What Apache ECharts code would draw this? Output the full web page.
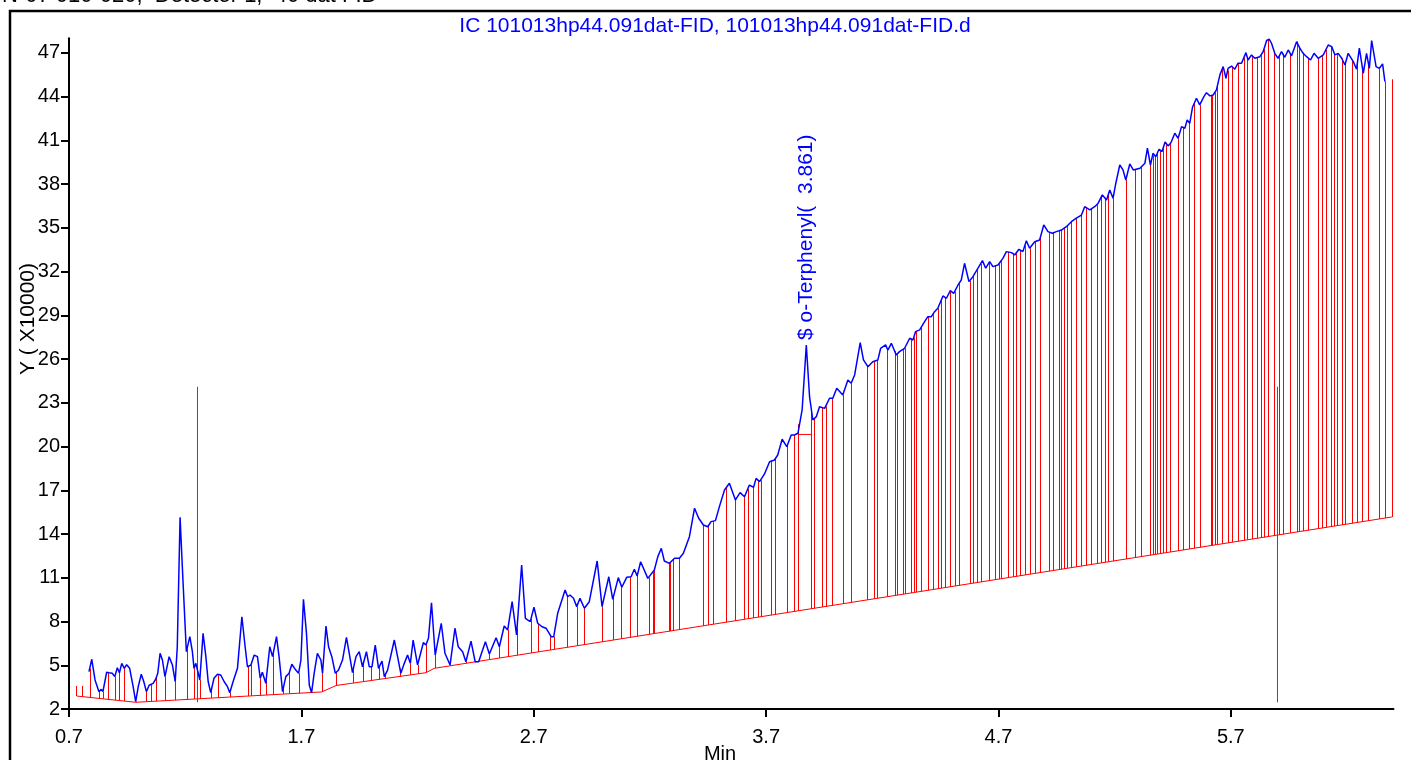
<!DOCTYPE html>
<html>
<head>
<meta charset="utf-8">
<script src="https://cdn.jsdelivr.net/npm/echarts@6/dist/echarts.min.js"></script>
<style>
    html, body { margin: 0; padding: 0; background: #fff; }
    #chart { width: 1411px; height: 760px; }
</style>
</head>
<body>
<div id="chart"></div>
<script>
    // axis ticks
    const xTicks = [0.7, 1.7, 2.7, 3.7, 4.7, 5.7];
    const yTicks = [2, 5, 8, 11, 14, 17, 20, 23, 26, 29, 32, 35, 38, 41, 44, 47];

    // FID signal, [min, Y x10000]
    const signal = [
        [0.786,4.56],[0.798,5.41],[0.812,3.99],[0.829,3.19],[0.839,3.35],[0.846,3.19],[0.862,4.52],[0.872,4.49],[0.886,4.45],[0.897,4.22],
        [0.908,4.83],[0.917,4.49],[0.927,5.13],[0.938,4.79],[0.948,5.04],[0.961,4.79],[0.976,3.53],[0.987,2.50],[0.998,3.53],[1.011,4.38],
        [1.022,3.87],[1.033,3.19],[1.045,3.63],[1.062,3.76],[1.073,4.04],[1.082,4.45],[1.092,5.82],[1.102,5.36],[1.113,4.22],[1.131,5.59],
        [1.145,5.02],[1.157,3.87],[1.166,6.27],[1.178,15.15],[1.191,10.62],[1.205,5.93],[1.220,6.96],[1.231,5.93],[1.238,4.79],[1.246,5.13],
        [1.263,3.99],[1.277,7.19],[1.289,5.59],[1.299,3.87],[1.310,3.12],[1.324,4.11],[1.339,4.38],[1.353,4.33],[1.368,3.87],[1.382,3.53],
        [1.392,3.12],[1.406,3.87],[1.425,4.79],[1.444,8.33],[1.458,6.27],[1.468,4.90],[1.483,5.02],[1.497,5.70],[1.511,5.59],[1.523,4.11],
        [1.532,4.52],[1.547,3.76],[1.564,6.27],[1.576,5.59],[1.593,6.96],[1.604,5.59],[1.619,3.19],[1.633,4.22],[1.647,4.45],[1.659,5.07],
        [1.676,4.67],[1.688,4.45],[1.698,5.36],[1.709,9.52],[1.722,7.19],[1.734,3.65],[1.744,3.12],[1.755,4.45],[1.769,5.82],[1.784,5.36],
        [1.791,4.45],[1.806,7.69],[1.817,6.27],[1.831,5.59],[1.846,4.45],[1.860,4.67],[1.877,5.36],[1.894,6.92],[1.906,5.82],[1.920,4.49],
        [1.935,5.59],[1.949,5.93],[1.963,4.90],[1.980,5.93],[1.992,4.90],[2.004,4.90],[2.018,6.39],[2.032,4.79],[2.047,5.29],[2.057,4.22],
        [2.071,4.67],[2.100,6.73],[2.114,5.59],[2.128,4.45],[2.143,5.13],[2.157,5.70],[2.169,5.13],[2.181,6.73],[2.200,5.02],[2.225,6.55],
        [2.236,6.39],[2.247,6.85],[2.260,9.29],[2.276,5.70],[2.302,7.88],[2.318,5.82],[2.340,5.02],[2.361,7.54],[2.375,6.27],[2.394,5.93],
        [2.408,5.24],[2.430,6.66],[2.448,5.24],[2.463,5.24],[2.492,6.62],[2.509,5.77],[2.538,6.89],[2.552,6.27],[2.573,7.69],[2.588,7.42],
        [2.607,9.36],[2.626,7.08],[2.648,11.88],[2.664,8.22],[2.685,7.99],[2.701,8.98],[2.717,7.88],[2.736,7.64],[2.753,7.54],[2.775,6.96],
        [2.786,6.96],[2.803,8.56],[2.835,10.16],[2.846,9.70],[2.856,9.82],[2.871,9.59],[2.885,9.02],[2.899,9.59],[2.918,8.91],[2.939,9.36],
        [2.973,12.15],[2.994,9.02],[3.023,11.07],[3.040,9.52],[3.064,11.01],[3.079,10.35],[3.100,11.03],[3.119,11.07],[3.133,11.58],[3.145,11.12],
        [3.160,12.10],[3.191,10.96],[3.219,11.53],[3.234,12.45],[3.249,13.02],[3.262,12.15],[3.284,11.99],[3.306,12.34],[3.327,12.34],[3.344,12.68],
        [3.370,13.82],[3.392,15.77],[3.410,15.08],[3.430,14.62],[3.449,14.50],[3.463,14.85],[3.482,14.92],[3.499,15.88],[3.521,17.02],[3.542,17.48],
        [3.568,16.34],[3.588,16.84],[3.607,16.56],[3.628,17.36],[3.646,17.21],[3.657,17.82],[3.672,17.59],[3.693,18.12],[3.715,18.96],[3.736,19.08],
        [3.750,19.42],[3.769,20.50],[3.789,19.99],[3.808,20.79],[3.822,20.79],[3.837,20.91],[3.855,22.51],[3.873,26.97],[3.887,23.42],[3.901,21.82],
        [3.916,22.05],[3.930,22.73],[3.952,22.62],[3.973,23.31],[3.987,23.31],[4.004,24.00],[4.030,23.54],[4.052,24.57],[4.066,24.34],[4.081,24.91],
        [4.105,27.12],[4.119,25.94],[4.138,25.48],[4.159,25.82],[4.181,25.94],[4.193,26.74],[4.214,26.97],[4.224,26.62],[4.239,27.08],[4.260,26.28],
        [4.274,26.51],[4.296,26.74],[4.318,27.43],[4.332,27.31],[4.343,27.88],[4.361,28.00],[4.378,28.46],[4.396,28.91],[4.411,28.91],[4.425,29.25],
        [4.439,29.48],[4.461,30.33],[4.476,30.17],[4.493,30.69],[4.507,30.51],[4.526,31.08],[4.540,31.43],[4.554,32.57],[4.573,31.31],[4.590,31.65],
        [4.612,32.23],[4.631,32.75],[4.645,32.23],[4.662,32.68],[4.676,32.34],[4.698,32.45],[4.719,32.91],[4.734,33.37],[4.756,33.30],[4.770,33.14],
        [4.788,33.53],[4.805,33.37],[4.820,34.12],[4.834,33.60],[4.856,34.05],[4.877,34.17],[4.895,35.20],[4.913,34.74],[4.932,34.63],[4.949,34.74],
        [4.971,34.85],[4.992,35.08],[5.014,35.42],[5.035,35.66],[5.057,35.88],[5.071,36.45],[5.093,36.23],[5.114,36.45],[5.129,36.69],[5.147,37.26],
        [5.165,36.91],[5.179,37.60],[5.193,37.03],[5.205,38.06],[5.222,39.31],[5.236,38.97],[5.248,38.28],[5.265,39.38],[5.280,38.97],[5.309,39.09],
        [5.330,39.43],[5.341,40.46],[5.354,39.31],[5.365,40.11],[5.377,39.88],[5.391,40.39],[5.404,40.23],[5.417,40.89],[5.430,40.62],[5.442,40.84],
        [5.459,41.49],[5.473,41.14],[5.488,41.94],[5.502,41.83],[5.512,42.40],[5.523,42.17],[5.535,43.27],[5.552,43.89],[5.566,43.43],[5.584,44.00],
        [5.595,44.27],[5.610,44.05],[5.624,44.11],[5.638,44.46],[5.653,45.49],[5.667,46.06],[5.679,45.26],[5.688,45.94],[5.703,46.10],[5.717,45.88],
        [5.731,46.29],[5.746,46.29],[5.765,47.02],[5.774,46.51],[5.789,46.86],[5.803,46.63],[5.825,46.74],[5.839,47.08],[5.854,47.85],[5.865,47.95],
        [5.875,47.66],[5.889,46.97],[5.903,46.63],[5.918,47.08],[5.932,46.70],[5.947,47.20],[5.961,46.79],[5.983,47.77],[5.997,47.32],[6.011,46.97],
        [6.026,46.74],[6.043,46.51],[6.058,46.97],[6.076,46.63],[6.098,46.86],[6.119,47.54],[6.134,47.43],[6.148,46.86],[6.162,46.97],[6.177,46.63],
        [6.191,46.17],[6.205,46.97],[6.227,46.40],[6.241,45.88],[6.253,47.32],[6.270,45.60],[6.284,46.97],[6.296,45.94],[6.306,47.84],[6.325,46.06],
        [6.339,45.94],[6.353,46.24],[6.363,45.03]
    ];

    // integration baseline
    const baseline = [[0.733,2.89],[0.987,2.46],[1.788,3.17],[1.849,3.61],[2.236,4.49],[2.272,4.79],[6.393,15.17]];

    // peak start/stop drop lines (go up to the signal)
    const dropTimes = [
        0.789,0.829,0.846,0.869,0.897,0.917,0.938,0.987,1.033,1.054,1.075,1.113,1.157,1.208,1.238,1.263,1.312,1.340,1.392,1.470,
        1.483,1.523,1.548,1.579,1.622,1.647,1.688,1.741,1.788,1.849,1.923,1.966,2.001,2.035,2.061,2.124,2.169,2.200,2.236,2.276,
        2.340,2.408,2.458,2.509,2.552,2.588,2.628,2.688,2.720,2.770,2.786,2.845,2.885,2.918,2.994,3.042,3.077,3.115,3.145,3.194,
        3.212,3.219,3.281,3.288,3.298,3.324,3.430,3.452,3.473,3.528,3.567,3.607,3.621,3.643,3.664,3.676,3.722,3.740,3.791,3.819,
        3.894,3.908,3.942,3.956,3.983,4.030,4.066,4.134,4.163,4.178,4.222,4.253,4.263,4.289,4.296,4.322,4.335,4.346,4.368,4.396,
        4.418,4.439,4.454,4.471,4.493,4.511,4.529,4.576,4.590,4.607,4.623,4.659,4.687,4.701,4.712,4.743,4.762,4.777,4.791,4.813,
        4.834,4.859,4.880,4.917,4.935,4.961,4.968,4.982,4.997,5.014,5.035,5.057,5.078,5.100,5.122,5.143,5.157,5.172,5.193,5.248,
        5.287,5.312,5.351,5.363,5.373,5.383,5.394,5.408,5.420,5.440,5.473,5.492,5.520,5.542,5.566,5.613,5.619,5.631,5.641,5.664,
        5.686,5.707,5.729,5.756,5.770,5.793,5.811,5.829,5.842,5.858,5.886,5.907,5.923,5.954,5.983,5.993,6.009,6.033,6.076,6.091,
        6.109,6.129,6.145,6.158,6.177,6.192,6.222,6.244,6.265,6.291,6.339,6.363
    ];
    // drop lines with their own top value
    const flagDrops = [[0.731,3.58],[0.755,3.58],[3.838,21.53],[6.392,45.19]];
    // skimmed baseline under the surrogate peak
    const peakBase = [[3.838,20.83],[3.894,20.83]];

    // retention window markers
    const windowTimes = [1.253, 5.897];
    const windowRange = [2.46, 24.1];

    const peakName = '$ o-Terphenyl(  3.861)';
    const peakAt = [3.873, 26.97];

    function interp(pts, t) {
        if (t <= pts[0][0]) return pts[0][1];
        for (let i = 1; i < pts.length; i++) {
            if (t <= pts[i][0]) {
                let a = pts[i - 1], b = pts[i];
                return a[1] + (b[1] - a[1]) * (t - a[0]) / (b[0] - a[0]);
            }
        }
        return pts[pts.length - 1][1];
    }

    let dropData = dropTimes.map(t => [t, interp(signal, t), interp(baseline, t)])
        .concat(flagDrops.map(d => [d[0], d[1], interp(baseline, d[0])]))
    let windowData = windowTimes.map(t => [t, windowRange[1], windowRange[0]])

    function vLine(color) {
        return function (params, api) {
            let a = api.coord([api.value(0), api.value(2)])
            let b = api.coord([api.value(0), api.value(1)])
            let x = Math.round(a[0]) + 0.5
            return {
                type: 'line',
                shape: { x1: x, y1: a[1], x2: x, y2: b[1] },
                style: { stroke: color, lineWidth: 1 }
            }
        }
    }

    const font = '"Liberation Sans", Arial, sans-serif'
    let mychart = echarts.init(document.getElementById('chart'))
    let option = {
        animation: false,
        backgroundColor: '#fff',
        grid: { left: 69, right: 17.5, top: 38.3, bottom: 51 },
        xAxis: {
            type: 'value',
            min: 0.7,
            max: 6.4,
            axisLine: { onZero: false, lineStyle: { color: '#000', width: 2 } },
            axisTick: { customValues: xTicks, length: 8, lineStyle: { color: '#000', width: 2 } },
            axisLabel: { customValues: xTicks, color: '#000', fontSize: 20, fontFamily: font, margin: 18 },
            splitLine: { show: false }
        },
        yAxis: {
            type: 'value',
            min: 2,
            max: 48,
            axisLine: { show: true, onZero: false, lineStyle: { color: '#000', width: 2 } },
            axisTick: { show: true, customValues: yTicks, length: 8, lineStyle: { color: '#000', width: 2 } },
            axisLabel: { customValues: yTicks, color: '#000', fontSize: 20, fontFamily: font, margin: 9 },
            splitLine: { show: false }
        },
        graphic: [
            { type: 'rect', shape: { x: 10, y: 11, width: 1420, height: 800 }, style: { fill: 'none', stroke: '#000', lineWidth: 2.5 } },
            { type: 'text', x: 2, y: 7, style: { text: 'N-07 010-020,  Detector 1,  40 dat FID', font: '22px ' + font, fill: '#000', verticalAlign: 'bottom' } },
            { type: 'text', x: 715, y: 26, style: { text: 'IC 101013hp44.091dat-FID, 101013hp44.091dat-FID.d', font: '21px ' + font, fill: '#0000ff', align: 'center', verticalAlign: 'middle' } },
            { type: 'text', x: 28, y: 319, rotation: Math.PI / 2, style: { text: 'Y ( X10000)', font: '21px ' + font, fill: '#000', align: 'center', verticalAlign: 'middle' } },
            { type: 'text', x: 720, y: 744, style: { text: 'Min', font: '20px ' + font, fill: '#000', align: 'center', verticalAlign: 'top' } }
        ],
        series: [
            { type: 'custom', renderItem: vLine('#ff0000'), data: dropData, encode: { x: 0, y: 1 }, silent: true },
            { type: 'custom', renderItem: vLine('#555'), data: windowData, encode: { x: 0, y: 1 }, silent: true },
            { type: 'line', data: baseline, showSymbol: false, lineStyle: { color: '#ff0000', width: 1 }, silent: true },
            { type: 'line', data: peakBase, showSymbol: false, lineStyle: { color: '#ff0000', width: 1 }, silent: true },
            { type: 'line', data: signal, showSymbol: false, sampling: 'none', lineStyle: { color: '#0000ff', width: 1.5 }, silent: true }
        ]
    };
    mychart.setOption(option)

    let p = mychart.convertToPixel({ gridIndex: 0 }, peakAt)
    mychart.setOption({
        graphic: option.graphic.concat([{
            type: 'text', x: p[0], y: p[1] - 5, rotation: Math.PI / 2,
            style: { text: peakName, font: '21px ' + font, fill: '#0000ff', align: 'left', verticalAlign: 'middle' }
        }])
    })
</script>
</body>
</html>
